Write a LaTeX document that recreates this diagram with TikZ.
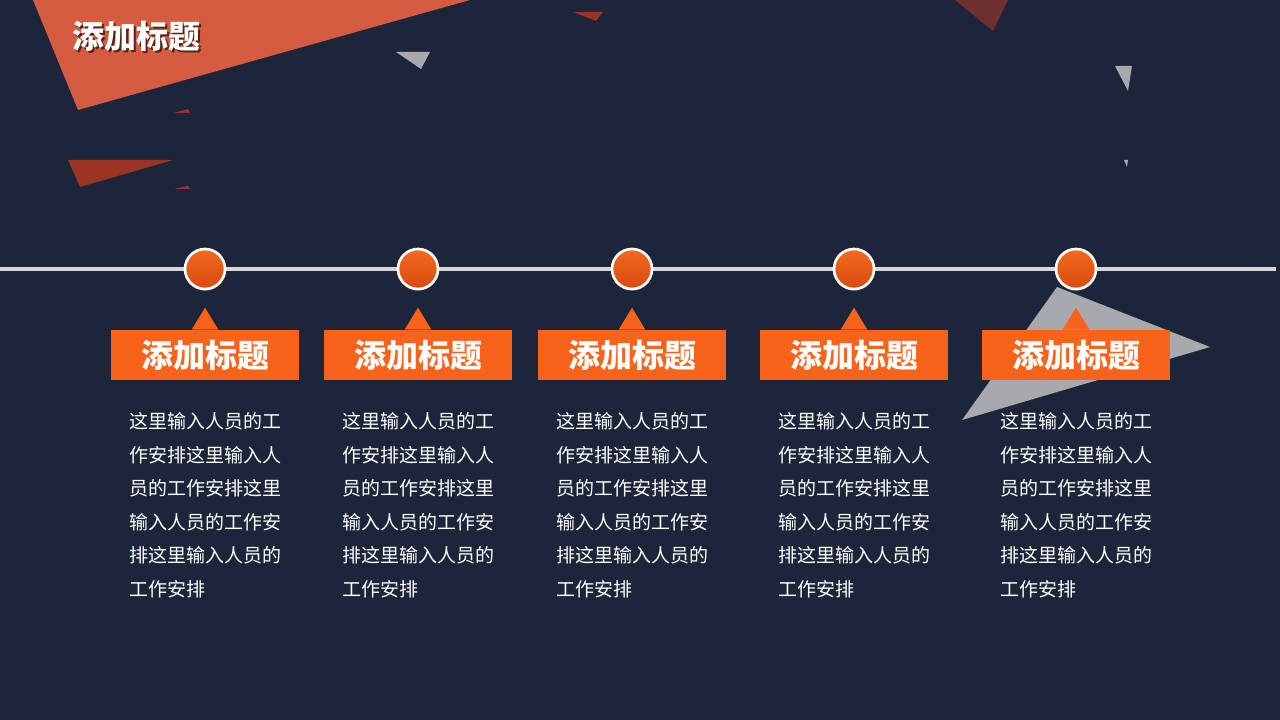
\documentclass[tikz,border=0pt]{standalone}
\usepackage{fontspec}
\setmainfont{Noto Sans CJK SC}
\usetikzlibrary{positioning,shadows}

\definecolor{bgnavy}{HTML}{1C2539}
\definecolor{bigorange}{HTML}{D55C40}
\definecolor{darkred}{HTML}{9A3424}
\definecolor{wine}{HTML}{6E2F2F}
\definecolor{stone}{HTML}{A7A9AC}
\definecolor{railgray}{HTML}{D9D9D9}
\definecolor{taborange}{HTML}{F7631B}
\definecolor{dotlight}{HTML}{F46A1E}
\definecolor{dotdark}{HTML}{D84A10}

\tikzset{
  dot/.style={circle, draw=white, line width=2pt, top color=dotlight, bottom color=dotdark,
              minimum size=30pt, inner sep=0pt,
              drop shadow={opacity=0.45, shadow xshift=0pt, shadow yshift=-1.5pt}},
  tagbox/.style={fill=taborange, minimum width=141pt, minimum height=37.5pt, inner sep=0pt,
                 text=white, font=\bfseries\fontsize{24}{26}\selectfont},
  bodytext/.style={text=white, align=left, inner sep=0pt, font=\fontsize{14.25}{25.2}\selectfont},
  pointer/.style={fill=taborange}
}

\begin{document}
\begin{tikzpicture}[x=0.75pt, y=-0.75pt, node distance=29.5pt]

\fill[bgnavy] (0,0) rectangle (1280,720);
\useasboundingbox (0,0) rectangle (1280,720);

% background shards
\fill[bigorange] (33,0) -- (470,0) -- (78,110) -- cycle;
\fill[darkred] (68,160) -- (173,160) -- (80,187) -- cycle;
\fill[darkred] (174,113) -- (190,113) -- (188,109) -- cycle;
\fill[darkred] (174,189) -- (190,189) -- (188,186) -- cycle;
\fill[darkred] (573,12) -- (603,12) -- (596,21) -- cycle;
\fill[wine] (955,0) -- (1008,0) -- (993,31) -- cycle;
\fill[stone] (396,52) -- (430,52) -- (421,69) -- cycle;
\fill[stone] (1115,66) -- (1132,66) -- (1128,91) -- cycle;
\fill[stone] (1124,160) -- (1128,160) -- (1127,167) -- cycle;
\fill[stone] (1057,287) -- (1210,347) -- (962,420) -- cycle;

% title
\node[text=black, opacity=0.6, font=\bfseries\fontsize{24}{24}\selectfont] at (138,38) {添加标题};
\node[text=white, font=\bfseries\fontsize{24}{24}\selectfont] (title) at (136,36) {添加标题};

% timeline
\coordinate (railL) at (0,269);
\coordinate (railR) at (1276,269);
\draw[railgray, line width=3pt] (railL) -- (railR);

\node[dot] (d1) at (205,269) {};
\node[dot] (d2) at (418,269) {};
\node[dot] (d3) at (632,269) {};
\node[dot] (d4) at (854,269) {};
\node[dot] (d5) at (1076,269) {};

\node[tagbox] (t1) [below=of d1] {添加标题};
\node[tagbox] (t2) [below=of d2] {添加标题};
\node[tagbox] (t3) [below=of d3] {添加标题};
\node[tagbox] (t4) [below=of d4] {添加标题};
\node[tagbox] (t5) [below=of d5] {添加标题};

\fill[pointer] ([xshift=-10pt]t1.north) -- ([yshift=16.5pt]t1.north) -- ([xshift=10pt]t1.north) -- cycle;
\fill[pointer] ([xshift=-10pt]t2.north) -- ([yshift=16.5pt]t2.north) -- ([xshift=10pt]t2.north) -- cycle;
\fill[pointer] ([xshift=-10pt]t3.north) -- ([yshift=16.5pt]t3.north) -- ([xshift=10pt]t3.north) -- cycle;
\fill[pointer] ([xshift=-10pt]t4.north) -- ([yshift=16.5pt]t4.north) -- ([xshift=10pt]t4.north) -- cycle;
\fill[pointer] ([xshift=-10pt]t5.north) -- ([yshift=16.5pt]t5.north) -- ([xshift=10pt]t5.north) -- cycle;

\node[bodytext] (b1) [below=24pt of t1] {这里输入人员的工\\作安排这里输入人\\员的工作安排这里\\输入人员的工作安\\排这里输入人员的\\工作安排};
\node[bodytext] (b2) [below=24pt of t2] {这里输入人员的工\\作安排这里输入人\\员的工作安排这里\\输入人员的工作安\\排这里输入人员的\\工作安排};
\node[bodytext] (b3) [below=24pt of t3] {这里输入人员的工\\作安排这里输入人\\员的工作安排这里\\输入人员的工作安\\排这里输入人员的\\工作安排};
\node[bodytext] (b4) [below=24pt of t4] {这里输入人员的工\\作安排这里输入人\\员的工作安排这里\\输入人员的工作安\\排这里输入人员的\\工作安排};
\node[bodytext] (b5) [below=24pt of t5] {这里输入人员的工\\作安排这里输入人\\员的工作安排这里\\输入人员的工作安\\排这里输入人员的\\工作安排};

\end{tikzpicture}
\end{document}
